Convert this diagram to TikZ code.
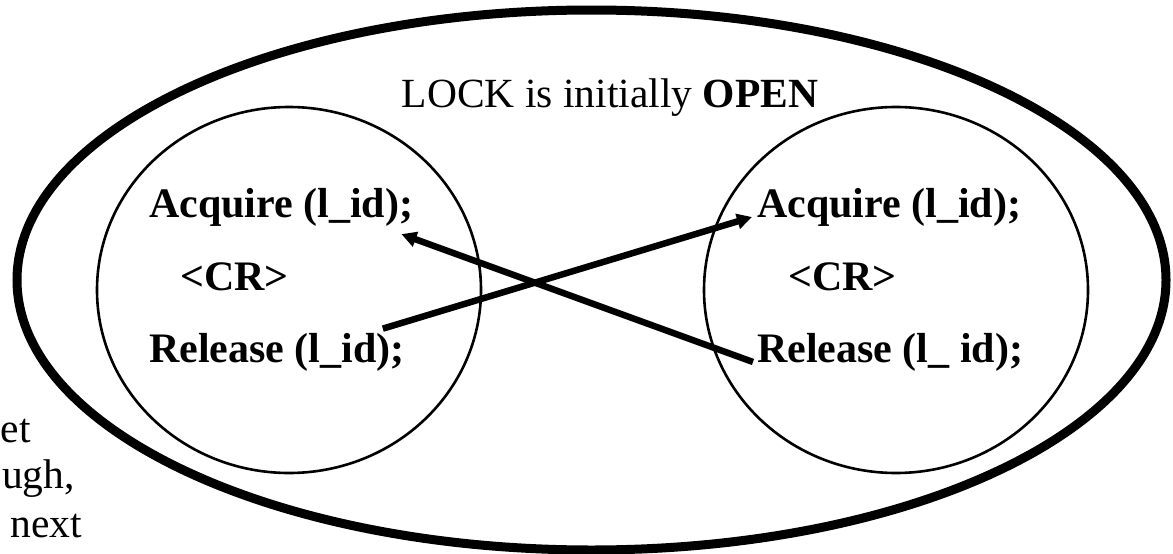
\documentclass[tikz,border=0pt]{standalone}
\usepackage{fontspec}
\setmainfont{Liberation Serif}
\usetikzlibrary{shapes.geometric,arrows.meta}
\begin{document}
\begin{tikzpicture}[x=1pt,y=-1pt,
  txt/.style={inner sep=0pt, font=\fontsize{41.5}{41.5}\selectfont},
  btxt/.style={inner sep=0pt, font=\fontsize{42}{42}\selectfont\bfseries},
  proc/.style={draw, ellipse, line width=2.6pt, minimum width=384pt, minimum height=366pt, inner sep=0pt},
  outerell/.style={draw, ellipse, line width=9pt, minimum width=1149pt, minimum height=540pt, inner sep=0pt},
  flow/.style={line width=6.5pt, -{Triangle[length=15pt,width=15pt]}}]
\useasboundingbox (0,0) rectangle (1173,554);
\node[outerell] (lock) at (591.5,280) {};
\node[proc] (p1) at (289,290) {};
\node[proc] (p2) at (896,290) {};
\node[txt, anchor=base] (title) at (610,107) {LOCK is initially \textbf{OPEN}};
\node[btxt, anchor=base west] (acqL) at (149,217) {Acquire (l\_id);};
\node[btxt, anchor=base west] (crL) at (180,290) {<CR>};
\node[btxt, anchor=base west] (relL) at (149,362) {Release (l\_id);};
\node[btxt, anchor=base west] (acqR) at (757,217) {Acquire (l\_id);};
\node[btxt, anchor=base west] (crR) at (788,290) {<CR>};
\node[btxt, anchor=base west] (relR) at (757,362) {Release (l\_ id);};
\node[txt, anchor=base west] (t1) at (0.5,442) {et};
\node[txt, anchor=base east] (t2) at (75,488) {ugh,};
\node[txt, anchor=base east] (t3) at (82,537) {next};
\draw[flow] ([xshift=-22pt,yshift=4pt]relL.north east) -- ([xshift=-5pt]acqR.base west);
\draw[flow] ([xshift=-4pt]relR.base west) -- ([xshift=-12pt,yshift=-8pt]acqL.south east);
\end{tikzpicture}
\end{document}
